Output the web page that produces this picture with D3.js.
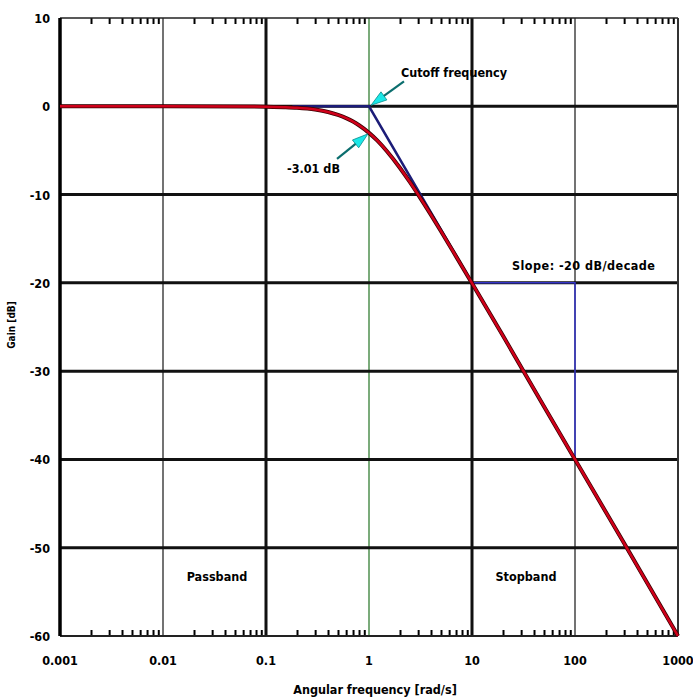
<!DOCTYPE html>
<html><head><meta charset="utf-8">
<script src="https://cdn.jsdelivr.net/npm/d3@7"></script>
<style>body{margin:0;background:#fff}text{font-family:"DejaVu Sans Condensed","DejaVu Sans",sans-serif;font-weight:bold;fill:#000}</style>
</head><body><svg id="c" width="693" height="700"></svg>
<script>
// Data
const xTicks = [0.001, 0.01, 0.1, 1, 10, 100, 1000];
const xTickLabels = ["0.001", "0.01", "0.1", "1", "10", "100", "1000"];
const yTicks = [10, 0, -10, -20, -30, -40, -50, -60];
const yTickLabels = ["10", "0", "-10", "-20", "-30", "-40", "-50", "-60"];
// magnitude response (red)
const respFreq = [0.001, 0.01, 0.1, 0.15, 0.2, 0.3, 0.4, 0.5, 0.6, 0.7, 0.8, 1, 1.2, 1.5, 2, 2.5, 3, 4, 5, 7, 10, 20, 50, 100, 300, 1000];
const respGain = [0, 0, -0.04, -0.1, -0.17, -0.37, -0.64, -0.97, -1.34, -1.73, -2.15, -3.01, -3.87, -5.12, -6.99, -8.6, -10, -12.3, -14.15, -17.0, -20.04, -26.0, -34.0, -40.0, -49.5, -60];
// asymptote (dark blue)
const asymFreq = [0.18, 1, 1000];
const asymGain = [0, 0, -60];
// slope indicator (blue)
const slopeFreq = [10, 100, 100];
const slopeGain = [-20, -20, -40];

const svg = d3.select("#c");
const L = 60, R = 678, T = 18, B = 636;
const x = d3.scaleLog().domain([0.001, 1000]).range([L, R]);
const y = d3.scaleLinear().domain([-60, 10]).range([B, T]);

// minor ticks top and bottom
const minors = [];
for (let d = -3; d < 3; d++) for (let k = 2; k <= 9; k++) minors.push(k * Math.pow(10, d));
const bottomAx = d3.axisBottom(x).tickValues(minors).tickSize(-6).tickFormat("");
const topAx = d3.axisTop(x).tickValues(minors).tickSize(-6).tickFormat("");
svg.append("g").attr("transform", `translate(0,${B})`).call(bottomAx)
  .call(g => g.select(".domain").remove()).selectAll("line").attr("stroke", "#000").attr("stroke-width", 2);
svg.append("g").attr("transform", `translate(0,${T})`).call(topAx)
  .call(g => g.select(".domain").remove()).selectAll("line").attr("stroke", "#000").attr("stroke-width", 2);

// vertical grid
const vStyle = {0.01: ["#444", 1.5], 0.1: ["#111", 3], 1: ["#4f8f4f", 1.5], 10: ["#111", 3], 100: ["#444", 1.5]};
[0.01, 0.1, 1, 10, 100].forEach(v => {
  svg.append("line").attr("x1", x(v)).attr("x2", x(v)).attr("y1", T).attr("y2", B)
    .attr("stroke", vStyle[v][0]).attr("stroke-width", vStyle[v][1]);
});
// horizontal grid
[0, -10, -20, -30, -40, -50].forEach(v => {
  svg.append("line").attr("x1", L).attr("x2", R).attr("y1", y(v)).attr("y2", y(v))
    .attr("stroke", "#111").attr("stroke-width", 3);
});
// frame
svg.append("line").attr("x1", L).attr("x2", R).attr("y1", T).attr("y2", T).attr("stroke", "#222").attr("stroke-width", 1.5);
svg.append("line").attr("x1", L).attr("x2", R).attr("y1", B).attr("y2", B).attr("stroke", "#222").attr("stroke-width", 2);
svg.append("line").attr("x1", R).attr("x2", R).attr("y1", T).attr("y2", B).attr("stroke", "#333").attr("stroke-width", 2);
svg.append("line").attr("x1", L).attr("x2", L).attr("y1", T).attr("y2", B).attr("stroke", "#000").attr("stroke-width", 3.5);

// slope indicator
const slopeLine = d3.line().x((d, i) => x(slopeFreq[i])).y((d, i) => y(slopeGain[i]));
svg.append("path").attr("d", slopeLine(slopeFreq)).attr("fill", "none").attr("stroke", "#3434c8").attr("stroke-width", 1.5);

// asymptote
const asymLine = d3.line().x((d, i) => x(asymFreq[i])).y((d, i) => y(asymGain[i]));
svg.append("path").attr("d", asymLine(asymFreq)).attr("fill", "none").attr("stroke", "#1c1c78").attr("stroke-width", 2.5);

// response
const pts = respFreq.map((f, i) => [Math.log10(f), respGain[i]]);
const lx = d3.scaleLinear().domain([-3, 3]).range([L, R]);
const respLine = d3.line().x(d => lx(d[0])).y(d => y(d[1])).curve(d3.curveMonotoneX);
svg.append("path").attr("d", respLine(pts)).attr("fill", "none").attr("stroke", "#3a0000").attr("stroke-width", 4);
svg.append("path").attr("d", respLine(pts)).attr("fill", "none").attr("stroke", "#d0001a").attr("stroke-width", 2.5);

// arrows
function arrow(x0, y0, x1, y1) {
  const dx = x1 - x0, dy = y1 - y0, len = Math.hypot(dx, dy);
  const ux = dx / len, uy = dy / len, px = -uy, py = ux;
  const hl = 16, hw = 5;
  svg.append("line").attr("x1", x0).attr("y1", y0).attr("x2", x1 - ux * hl * 0.6).attr("y2", y1 - uy * hl * 0.6)
    .attr("stroke", "#0b6e6e").attr("stroke-width", 2.2);
  const bx = x1 - ux * hl, by = y1 - uy * hl;
  svg.append("polygon").attr("points", `${x1},${y1} ${bx + px * hw},${by + py * hw} ${bx - px * hw},${by - py * hw}`)
    .attr("fill", "#19e8e8").attr("stroke", "#0b8a8a").attr("stroke-width", 0.8);
}
arrow(x(1) + 35, y(0) - 25, x(1) + 2, y(0) - 1);
arrow(x(1) - 32, y(-3.01) + 26, x(1) - 1, y(-3.01) + 1);

// annotations
svg.append("text").attr("x", 401).attr("y", 77).attr("font-size", 12.5).attr("textLength", 106).text("Cutoff frequency");
svg.append("text").attr("x", 287).attr("y", 173).attr("font-size", 12.5).attr("textLength", 53).text("-3.01 dB");
svg.append("text").attr("x", 512).attr("y", 270).attr("font-size", 12.5).attr("textLength", 143).text("Slope: -20 dB/decade");
svg.append("text").attr("x", 217).attr("y", 581).attr("font-size", 12.5).attr("text-anchor", "middle").text("Passband");
svg.append("text").attr("x", 526).attr("y", 581).attr("font-size", 12.5).attr("text-anchor", "middle").text("Stopband");

// tick labels
xTicks.forEach((v, i) => {
  svg.append("text").attr("x", x(v)).attr("y", 665).attr("font-size", 12.5).attr("text-anchor", "middle").text(xTickLabels[i]);
});
yTicks.forEach((v, i) => {
  svg.append("text").attr("x", 50).attr("y", y(v) + 5).attr("font-size", 12.5).attr("text-anchor", "end").text(yTickLabels[i]);
});
// axis titles
svg.append("text").attr("x", 375).attr("y", 694).attr("font-size", 12.5).attr("text-anchor", "middle").text("Angular frequency [rad/s]");
svg.append("text").attr("transform", "translate(15,325) rotate(-90)").attr("font-size", 10).attr("text-anchor", "middle").text("Gain [dB]");
</script></body></html>
